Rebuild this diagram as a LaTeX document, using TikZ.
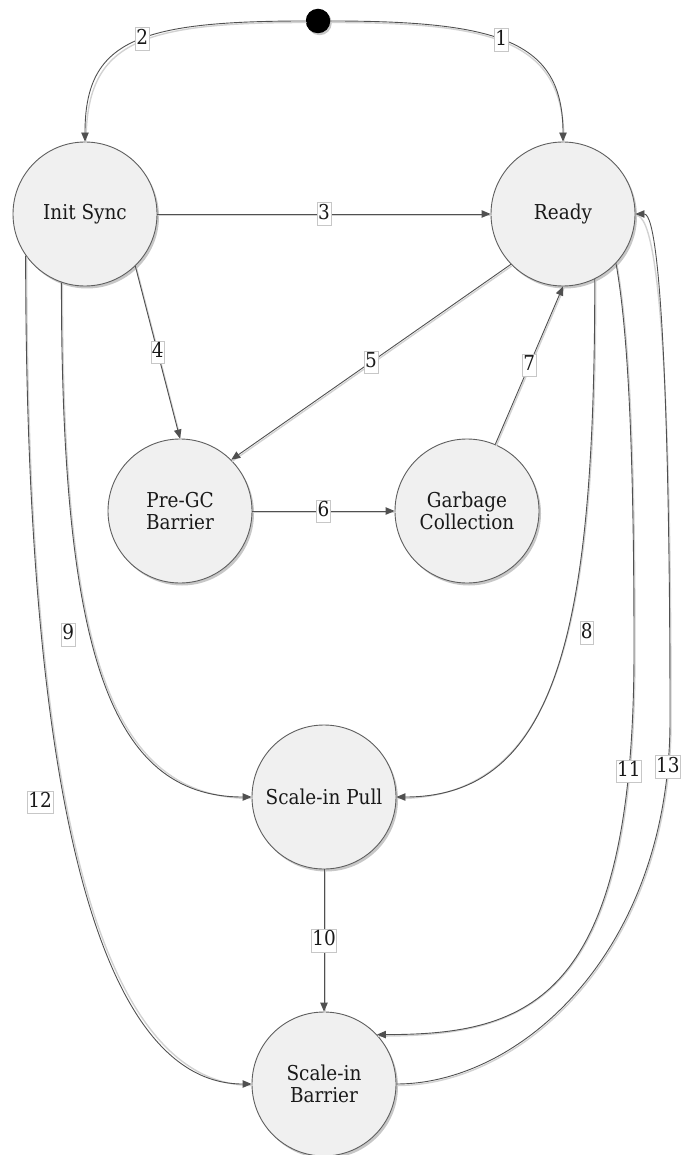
\documentclass[tikz,border=0pt]{standalone}
\usepackage{fontspec}
\setmainfont{DejaVu Serif}[FakeStretch=0.9]
\usetikzlibrary{arrows.meta,shadows}
\definecolor{edgegray}{HTML}{505050}
\definecolor{nodefill}{HTML}{F0F0F0}
\definecolor{nodeline}{HTML}{5E5E5E}
\definecolor{shadowgray}{HTML}{D2D2D2}
\tikzset{
  state/.style={circle, draw=nodeline, fill=nodefill, line width=0.9pt,
    minimum size=144pt, inner sep=0pt, align=center, text=black!90,
    font=\fontsize{20.5}{21.5}\selectfont,
    drop shadow={shadow xshift=2pt, shadow yshift=-2.5pt, fill=black, opacity=0.22}},
  startdot/.style={circle, fill=black, minimum size=24.5pt, inner sep=0pt,
    drop shadow={shadow xshift=1.5pt, shadow yshift=-2pt, fill=black, opacity=0.22}},
  trans/.style={draw=edgegray, line width=0.9pt,
    -{Triangle[length=9pt,width=7.5pt]},
    preaction={draw=shadowgray, line width=1.4pt, -,
      transform canvas={xshift=1pt, yshift=-1.5pt}}},
  lbl/.style={draw=black!22, line width=0.5pt, fill=white, text=black!90,
    inner xsep=1pt, inner ysep=0.5pt, text height=16pt, text depth=5.5pt,
    font=\fontsize{20.5}{21.5}\selectfont}
}
\begin{document}
\begin{tikzpicture}[x=1pt,y=-1pt]
\useasboundingbox (0,0) rectangle (680,1155);

% states
\node[startdot] (dot) at (318,21) {};
\node[state] (init) at (85,214) {Init Sync};
\node[state] (ready) at (563,214) {Ready};
\node[state] (pregc) at (180,511) {Pre-GC\\Barrier};
\node[state] (gc) at (467,511) {Garbage\\Collection};
\node[state] (pull) at (324,797) {Scale-in Pull};
\node[state] (barrier) at (324,1084) {Scale-in\\Barrier};

% transitions
\draw[trans] (dot.east) .. controls +(170,0) and +(0,-100) .. (ready.north)
  node[lbl,pos=0.46] {1};
\draw[trans] (dot.west) .. controls +(-170,0) and +(0,-100) .. (init.north)
  node[lbl,pos=0.45] {2};
\draw[trans] (init.east) -- node[lbl] {3} (ready.west);
\draw[trans] (init.-46) -- node[lbl] {4} (pregc.north);
\draw[trans] (ready.-136) -- node[lbl] {5} (pregc.45);
\draw[trans] (pregc.east) -- node[lbl] {6} (gc.west);
\draw[trans] (gc.67) -- node[lbl] {7} (ready.south);
\draw[trans] (ready.-64) .. controls +(0,341) and +(164,0) .. (pull.east)
  node[lbl,pos=0.44,xshift=20pt] {8};
\draw[trans] (init.-109) .. controls +(0,368) and +(-142,0) .. (pull.west)
  node[lbl,pos=0.42,xshift=-22pt] {9};
\draw[trans] (pull.south) -- node[lbl] {10} (barrier.north);
\draw[trans] (ready.-43) .. controls +(12,67) and (634,450) .. (634,650)
  .. controls +(0,350) and +(153,0) .. (barrier.43)
  node[lbl,pos=0.13] {11};
\draw[trans] (init.-145) .. controls +(0,545) and +(-152,0) .. (barrier.west)
  node[lbl,pos=0.42,xshift=-25pt] {12};
\draw[trans] (barrier.east) .. controls +(125,0) and (670,950) .. (670,720)
  node[lbl,pos=0.93] {13}
  .. controls (670,450) and +(27,0) .. (ready.east);
\end{tikzpicture}
\end{document}
